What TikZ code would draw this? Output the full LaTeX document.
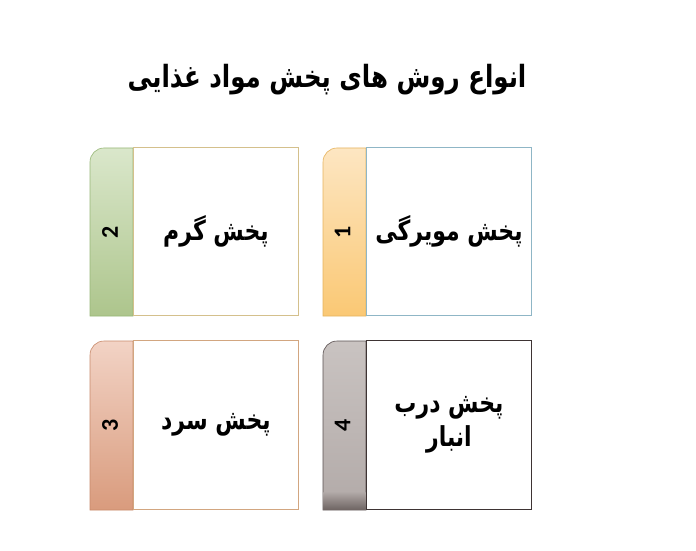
\documentclass[tikz,border=0pt]{standalone}
\usepackage{fontspec}
\usepackage{graphicx}
\setmainfont{Carlito}
\newfontfamily\fafont[Script=Arabic]{DejaVu Sans}
\TeXXeTstate=1
\newcommand{\fa}[1]{\scalebox{1}[1.25]{\beginR #1\endR}}
\definecolor{bOne}{HTML}{8FB6C6}
\definecolor{bTwo}{HTML}{D4C08C}
\definecolor{bThree}{HTML}{D2A680}
\definecolor{bFour}{HTML}{3E3434}
\definecolor{oTop}{HTML}{FDE6C2}
\definecolor{oBot}{HTML}{FAC874}
\definecolor{oLine}{HTML}{E6B45E}
\definecolor{gTop}{HTML}{DAE7CB}
\definecolor{gBot}{HTML}{ADC58C}
\definecolor{gLine}{HTML}{98B878}
\definecolor{sTop}{HTML}{F2D3C5}
\definecolor{sBot}{HTML}{D99B7D}
\definecolor{sLine}{HTML}{C88A6B}
\definecolor{kTop}{HTML}{C9C3C1}
\definecolor{kMid}{HTML}{B2AAA8}
\definecolor{kBot}{HTML}{6E6462}
\definecolor{kLine}{HTML}{5A5050}
\tikzset{
  mainbox/.style={draw, line width=0.9pt, fill=white, minimum width=165pt, minimum height=168pt, anchor=south west, inner sep=0pt, align=center, font=\fafont\fontsize{22}{34}\selectfont\bfseries},
  numlabel/.style={rotate=90, font=\fontsize{24}{24}\selectfont\bfseries, inner sep=0pt},
  tab/.style={line width=0.6pt},
}
\begin{document}
\begin{tikzpicture}[x=1pt,y=1pt]
\useasboundingbox (0,0) rectangle (696,550);
\fill[white] (0,0) rectangle (696,550);
\node[font=\fafont\fontsize{24.5}{28}\selectfont\bfseries] (title) at (327,470) {\fa{انواع روش های پخش مواد غذایی}};
% box 1
\shadedraw[tab, top color=oTop, bottom color=oBot, draw=oLine]
  (323,234) -- (323,388) arc[start angle=180,end angle=90,radius=14pt] -- (366,402) -- (366,234) -- cycle;
\node[mainbox, draw=bOne] (b1) at (366,234) {\fa{پخش مویرگی}};
\node[numlabel] (n1) at (342.5,318) {1};
% box 2
\shadedraw[tab, top color=gTop, bottom color=gBot, draw=gLine]
  (90,234) -- (90,388) arc[start angle=180,end angle=90,radius=14pt] -- (133,402) -- (133,234) -- cycle;
\node[mainbox, draw=bTwo] (b2) at (133,234) {\fa{پخش گرم}};
\node[numlabel] (n2) at (110,318) {2};
% box 3
\shadedraw[tab, top color=sTop, bottom color=sBot, draw=sLine]
  (90,40) -- (90,195) arc[start angle=180,end angle=90,radius=14pt] -- (133,209) -- (133,40) -- cycle;
\node[mainbox, draw=bThree, minimum height=169pt] (b3) at (133,40) {\fa{پخش سرد}};
\node[numlabel] (n3) at (110,124.5) {3};
% box 4
\shadedraw[tab, top color=kTop, bottom color=kMid, draw=kLine]
  (323,40) -- (323,195) arc[start angle=180,end angle=90,radius=14pt] -- (366,209) -- (366,40) -- cycle;
\shade[top color=kMid, bottom color=kBot] (323.3,40.3) rectangle (365.7,58);
\node[mainbox, draw=bFour, minimum height=169pt, yshift=-3pt] (b4) at (366,43) {\fa{پخش درب}\\\fa{انبار}};
\node[numlabel] (n4) at (342.5,124.5) {4};
\end{tikzpicture}
\end{document}
